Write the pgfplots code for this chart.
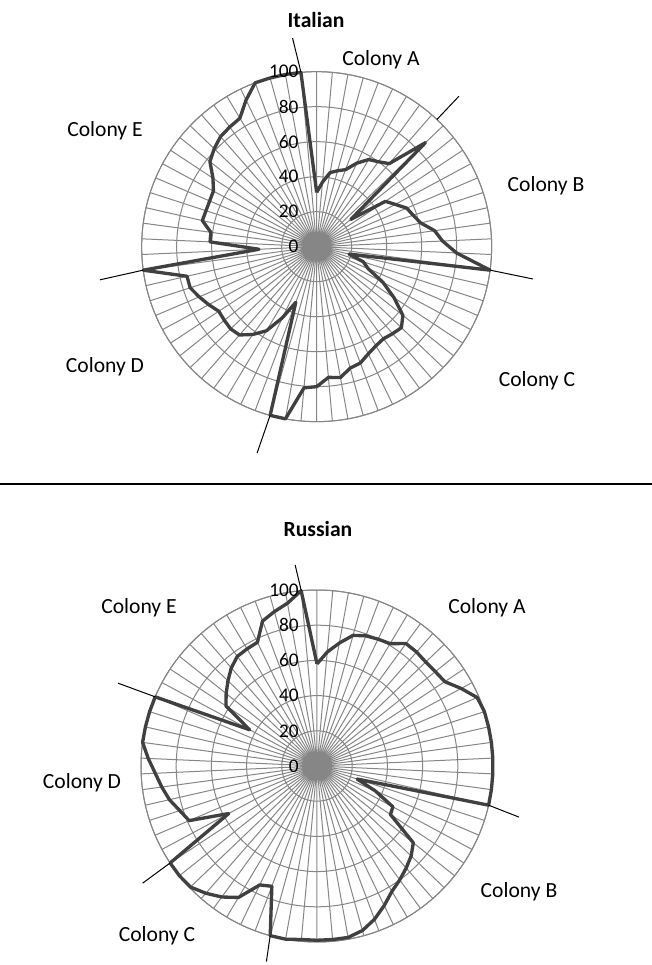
\documentclass[border=0pt]{standalone}
\usepackage{pgfplots}
\pgfplotsset{compat=1.18}
\usepackage{pgfplotstable}
\usepgfplotslibrary{polar}
\usepackage{fontspec}
\setmainfont{Carlito}
\definecolor{gridgray}{RGB}{134,134,134}
\definecolor{linegray}{RGB}{64,64,64}

% k = category index (70 categories, clockwise from the top), v = value
\pgfplotstableread{
k v
0 31
1 37
2 43
3 45
4 47
5 53
6 58
7 60
8 63
9 86
10 25
11 47
12 51
13 56
14 58
15 61
16 68
17 72
18 80
19 100
20 19
21 28
22 32
23 43
24 53
25 63
26 67
27 66
28 65
29 66
30 68
31 71
32 72
33 76
34 75
35 80
36 81
37 100
38 100
39 34
40 45
41 56
42 62
43 67
44 68
45 67.5
46 67
47 70
48 73
49 76
50 76
51 100
52 33
53 61
54 61
55 67
56 66.5
57 66.5
58 67
59 71
60 78
61 81
62 83.5
63 84.5
64 85.5
65 93
66 100
67 100
68 100
69 100
70 31
}\italian

\pgfplotstableread{
k v
0 58
1 65
2 71
3 77
4 79
5 80
6 81
7 86
8 86
9 85.5
10 86
11 87
12 93
13 99
14 100
15 100
16 100
17 100
18 100
19 100
20 100
21 24
22 36
23 49
24 50
25 70
26 74
27 77
28 80
29 83
30 88
31 93
32 97
33 99
34 99
35 99
36 99
37 100
38 100
39 73
40 75
41 87
42 92
43 96
44 99.5
45 100
46 100
47 57
48 79
49 82
50 86
51 89
52 92
53 96
54 100
55 100
56 100
57 100
58 43.5
59 62
60 66
61 70
62 74
63 77
64 77.5
65 78
66 88
67 91
68 94
69 100
70 58
}\russian

\pgfplotsset{radar/.style={
  scale only axis, width=#1, height=#1,
  ymin=0, ymax=100,
  xtick={2.5714286,7.7142857,...,360},
  ytick={20,40,60,80,100},
  xticklabels={}, yticklabels={},
  major tick length=0pt,
  grid=major,
  major grid style={gridgray, line width=0.75pt},
  axis line style={gridgray, line width=0.75pt},
  y axis line style={draw=none},
  clip=false,
  anchor=center,
}}

\newcommand{\tickfont}{\fontsize{14.5}{16}\selectfont}
\newcommand{\labfont}{\fontsize{16.2}{19}\selectfont}

\begin{document}
\begin{tikzpicture}
\path[use as bounding box] (0,0) rectangle (489pt,723.75pt);

% ---------------- Italian ----------------
\begin{polaraxis}[radar=262.5pt, at={(237.5pt,538.75pt)}]
\addplot[linegray, line width=2.5pt, line join=round, no markers]
  table[x expr={90-\thisrow{k}*360/70}, y=v] {\italian};
\node[anchor=east, inner sep=0pt, xshift=-13.5pt, font=\tickfont] at (axis cs:90,0) {0};
\node[anchor=east, inner sep=0pt, xshift=-13.5pt, font=\tickfont] at (axis cs:90,20) {20};
\node[anchor=east, inner sep=0pt, xshift=-13.5pt, font=\tickfont] at (axis cs:90,40) {40};
\node[anchor=east, inner sep=0pt, xshift=-13.5pt, font=\tickfont] at (axis cs:90,60) {60};
\node[anchor=east, inner sep=0pt, xshift=-13.5pt, font=\tickfont] at (axis cs:90,80) {80};
\node[anchor=east, inner sep=0pt, xshift=-13.5pt, font=\tickfont] at (axis cs:90,100) {100};
\draw[black, line width=0.75pt] (axis cs:95.14,100) -- (axis cs:96.6,120);
\draw[black, line width=0.75pt] (axis cs:46.6,100) -- (axis cs:46.6,118.3);
\draw[black, line width=0.75pt] (axis cs:-7.71,100) -- (axis cs:-8.5,125);
\draw[black, line width=0.75pt] (axis cs:-105.43,100) -- (axis cs:-106.1,122.7);
\draw[black, line width=0.75pt] (axis cs:-172.29,100) -- (axis cs:-171.3,125.3);
\end{polaraxis}

\node[font=\labfont\bfseries] at (237pt,708.75pt) {Italian};
\node[font=\labfont] at (285.75pt,678.75pt) {Colony A};
\node[font=\labfont] at (409.5pt,584.25pt) {Colony B};
\node[font=\labfont] at (402.75pt,438pt) {Colony C};
\node[font=\labfont] at (78.75pt,448.5pt) {Colony D};
\node[font=\labfont] at (78.75pt,625.5pt) {Colony E};

\draw[black, line width=0.9pt] (0,360.75pt) -- (489pt,360.75pt);

% ---------------- Russian ----------------
\begin{polaraxis}[radar=264pt, at={(237.75pt,149.25pt)}]
\addplot[linegray, line width=2.5pt, line join=round, no markers]
  table[x expr={90-\thisrow{k}*360/70}, y=v] {\russian};
\node[anchor=east, inner sep=0pt, xshift=-13.5pt, font=\tickfont] at (axis cs:90,0) {0};
\node[anchor=east, inner sep=0pt, xshift=-13.5pt, font=\tickfont] at (axis cs:90,20) {20};
\node[anchor=east, inner sep=0pt, xshift=-13.5pt, font=\tickfont] at (axis cs:90,40) {40};
\node[anchor=east, inner sep=0pt, xshift=-13.5pt, font=\tickfont] at (axis cs:90,60) {60};
\node[anchor=east, inner sep=0pt, xshift=-13.5pt, font=\tickfont] at (axis cs:90,80) {80};
\node[anchor=east, inner sep=0pt, xshift=-13.5pt, font=\tickfont] at (axis cs:90,100) {100};
\draw[black, line width=0.75pt] (axis cs:95.14,100) -- (axis cs:96.2,114.9);
\draw[black, line width=0.75pt] (axis cs:-12.86,100) -- (axis cs:-14.2,118.4);
\draw[black, line width=0.75pt] (axis cs:-105.43,100) -- (axis cs:-104.5,114.8);
\draw[black, line width=0.75pt] (axis cs:-146.57,100) -- (axis cs:-146.1,119.4);
\draw[black, line width=0.75pt] (axis cs:156.86,100) -- (axis cs:157.4,122.5);
\end{polaraxis}

\node[font=\labfont\bfseries] at (238.5pt,327pt) {Russian};
\node[font=\labfont] at (365.25pt,267.75pt) {Colony A};
\node[font=\labfont] at (389.25pt,54.75pt) {Colony B};
\node[font=\labfont] at (117.75pt,21.75pt) {Colony C};
\node[font=\labfont] at (61.5pt,136.5pt) {Colony D};
\node[font=\labfont] at (104.25pt,267.75pt) {Colony E};
\end{tikzpicture}
\end{document}
